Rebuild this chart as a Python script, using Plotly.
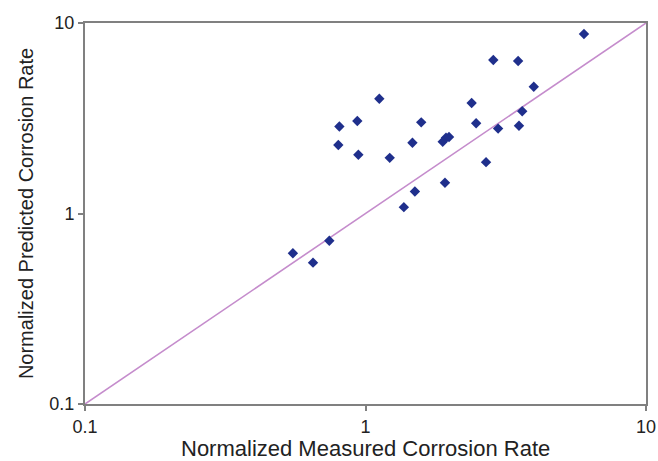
import plotly.graph_objects as go

measured = [1.12, 0.807, 0.935, 0.800, 0.943, 1.22, 1.47, 1.58, 1.885, 1.936, 1.985,
            1.92, 1.50, 6.01, 2.855, 3.50, 3.98, 2.39, 2.48, 3.62, 2.97, 3.525, 2.69,
            1.37, 0.743, 0.551, 0.650]
predicted = [4.00, 2.86, 3.06, 2.29, 2.035, 1.96, 2.35, 3.01, 2.38, 2.50, 2.52,
             1.45, 1.305, 8.76, 6.39, 6.32, 4.63, 3.80, 2.975, 3.44, 2.79, 2.89, 1.86,
             1.08, 0.720, 0.618, 0.552]
line_x = [0.1, 10]
line_y = [0.1, 10]
tick_vals = [0.1, 1, 10]
tick_text = ["0.1", "1", "10"]
x_title = "Normalized Measured Corrosion Rate"
y_title = "Normalized Predicted Corrosion Rate"

FONT = "Liberation Sans, Arial, sans-serif"

fig = go.Figure()
fig.add_trace(go.Scatter(x=line_x, y=line_y, mode="lines",
                         line=dict(color="#c58ccc", width=1.6), showlegend=False,
                         hoverinfo="skip"))
fig.add_trace(go.Scatter(x=measured, y=predicted, mode="markers",
                         marker=dict(symbol="diamond", size=8, color="#1f2f8c",
                                     line=dict(width=0)),
                         showlegend=False))

axis_common = dict(type="log", tickvals=tick_vals, ticktext=tick_text,
                   showgrid=False, zeroline=False, showline=True, mirror=True,
                   linecolor="#808080", linewidth=2, ticks="outside", ticklen=5,
                   tickcolor="#808080", tickwidth=1.5, automargin=False,
                   tickfont=dict(family=FONT, size=18, color="#222"))

fig.update_xaxes(range=[-1, 1], **axis_common)
fig.update_yaxes(range=[-1, 1], title=dict(text=y_title,
                 font=dict(family=FONT, size=20, color="#222"),
                 standoff=10), **axis_common)

fig.add_annotation(text=x_title, xref="paper", yref="paper", x=0.5, y=0,
                   xanchor="center", yanchor="bottom", yshift=-58, showarrow=False,
                   borderpad=0,
                   font=dict(family=FONT, size=22, color="#222"))

fig.update_layout(width=658, height=461, margin=dict(l=85, r=12, t=23, b=57),
                  plot_bgcolor="white", paper_bgcolor="white")

fig.write_html("out.html", config={"displayModeBar": False},
               post_script="document.body.style.margin='0';document.body.style.padding='0';")
